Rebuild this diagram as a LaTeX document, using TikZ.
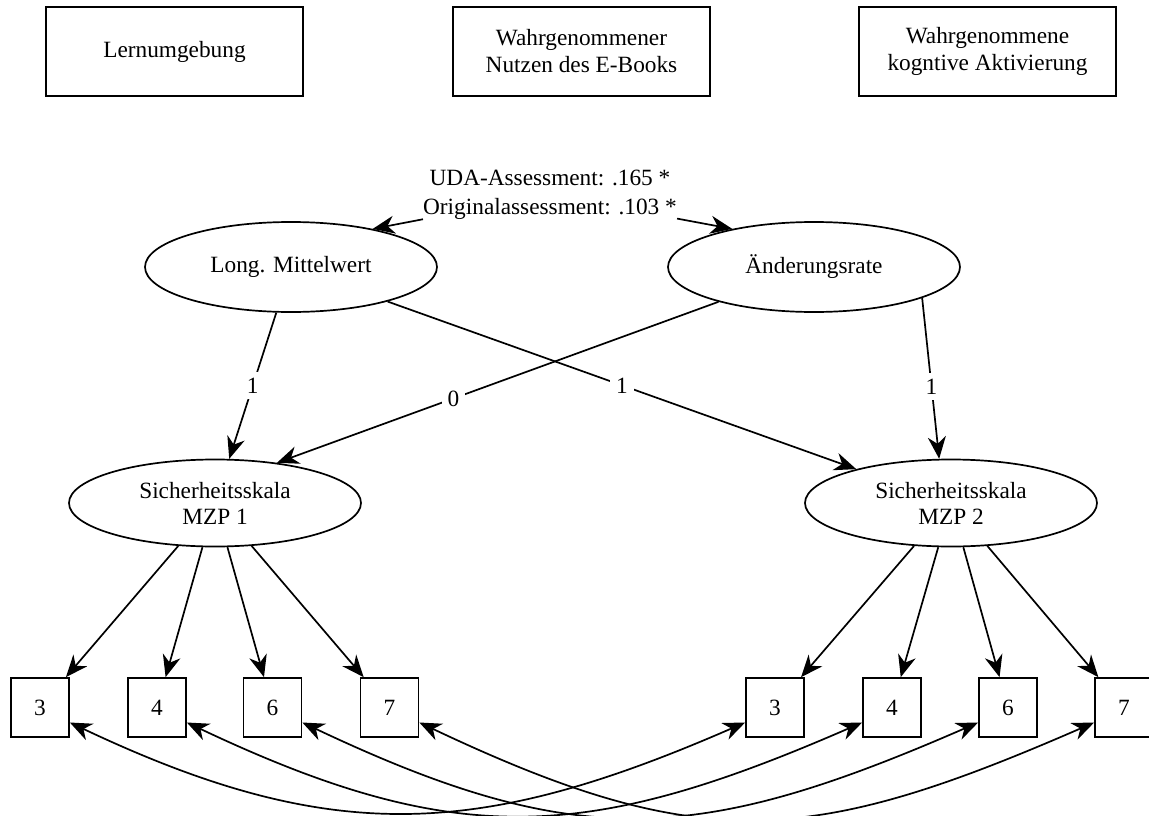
\documentclass[tikz,border=0pt]{standalone}
\usepackage{fontspec}
\setmainfont{Liberation Serif}
\usetikzlibrary{arrows.meta,shapes.geometric,calc}
\begin{document}
\begin{tikzpicture}[x=1pt,y=-1pt,
  every node/.style={font=\fontsize{23.3}{27}\selectfont},
  conn/.style={line width=1.7pt},
  tip/.tip={Stealth[length=22pt,width=18pt,inset=7pt]},
  arr/.style={conn, -tip},
  darr/.style={conn, tip-tip},
  topbox/.style={draw, line width=1.7pt, minimum width=257pt, minimum height=89pt, align=center, inner sep=0pt},
  latent/.style={draw, ellipse, line width=1.7pt, minimum width=292pt, minimum height=90pt, inner sep=0pt, align=center},
  scale2/.style={latent, minimum height=87pt, font=\fontsize{23.3}{26}\selectfont},
  item/.style={draw, line width=1.7pt, minimum width=58pt, minimum height=59pt, inner sep=0pt},
  lab/.style={fill=white, inner sep=6pt}
]
\useasboundingbox (0,0) rectangle (1149,816);
\clip (0,0) rectangle (1149,816);

% covariates
\node[topbox] (env) at (174.5,51.5) {Lernumgebung};
\node[topbox] (use) at (581.5,51.5) {Wahrgenommener\\Nutzen des E-Books};
\node[topbox] (cog) at (987.5,51.5) {Wahrgenommene\\kogntive Aktivierung};

% growth factors
\node[latent] (mean) at (291,267) {Long. Mittelwert};
\node[latent] (rate) at (814,267) {Änderungsrate};
\node[inner sep=0pt, align=center, font=\fontsize{23.3}{29}\selectfont] (cov) at (550,195)
  {UDA-Assessment: .165 *\\Originalassessment: .103 *};
\draw[arr] (cov) -- (mean.25);
\draw[arr] (cov) -- (rate.155);

% measurement occasions
\node[scale2] (s1) at (215,503) {Sicherheitsskala\\MZP 1};
\node[scale2] (s2) at (951,503) {Sicherheitsskala\\MZP 2};

\draw[arr] (mean) -- node[lab, pos=0.5] {1} (s1);
\draw[arr] (mean) -- node[lab, pos=0.5] {1} (s2);
\draw[arr] (rate) -- node[lab, pos=0.6] {0} (s1.33);
\draw[arr] (rate.-16) -- node[lab, pos=0.55] {1} (s2.105);

% indicators
\foreach \n/\x in {3/40,4/157,6/272.5,7/389.5} {
  \node[item] (l\n) at (\x,707.5) {\n};
  \draw[arr] (s1) -- (l\n);
}
\foreach \n/\x in {3/775,4/892,6/1008,7/1124} {
  \node[item] (r\n) at (\x,707.5) {\n};
  \draw[arr] (s2) -- (r\n);
}

% residual covariances
\foreach \n/\d in {3/1,4/1.03,6/1.05,7/1.07} {
  \draw[darr] ($(l\n.east)+(0,15)$) .. controls +(262*\d,124*\d) and +(-266*\d,116*\d) .. ($(r\n.west)+(0,15)$);
}
\end{tikzpicture}
\end{document}
